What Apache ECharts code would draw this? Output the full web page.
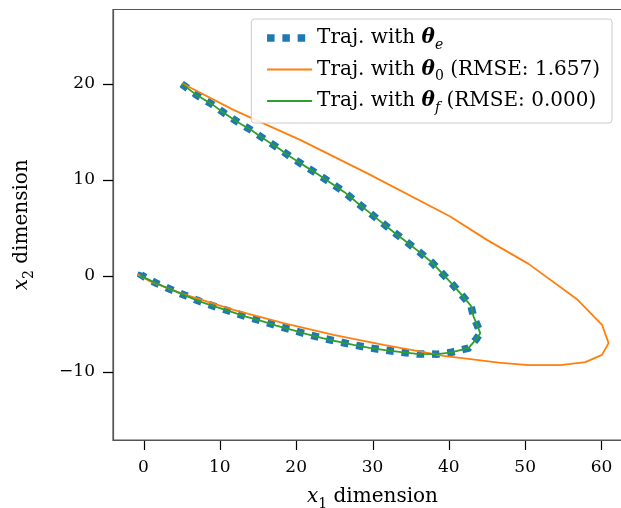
<!DOCTYPE html>
<html><head><meta charset="utf-8">
<script src="https://cdn.jsdelivr.net/npm/echarts@6/dist/echarts.min.js"></script>
<style>html,body{margin:0;padding:0;background:#fff}#c{width:621px;height:508px}</style>
</head><body><div id="c"></div>
<script>
// ---- data ----
var xTicks = [0, 10, 20, 30, 40, 50, 60];
var yTicks = [-10, 0, 10, 20];
var xMin = -4, xMax = 64, yMin = -17.1, yMax = 27.75;
var seriesSubs = ['e', '0', 'f'];
var seriesRmse = [null, '1.657', '0.000'];
// Trajectory with theta_e (expert) -- blue dotted
var trajE = [[5.0,20.0],[7.06,18.78],[8.95,17.89],[10.6,16.95],[12.36,16.01],[14.19,15.14],[15.85,14.24],[17.68,13.3],[19.34,12.36],[21.09,11.46],[22.84,10.59],[24.59,9.66],[26.33,8.72],[27.96,7.64],[29.61,6.59],[31.23,5.55],[32.84,4.51],[34.51,3.51],[36.16,2.47],[37.79,1.39],[39.1,0.28],[40.54,-0.94],[41.93,-2.22],[42.9,-3.13],[43.24,-4.24],[43.76,-5.21],[44.11,-5.97],[43.59,-6.59],[42.58,-7.53],[40.18,-7.99],[38.44,-8.16],[35.82,-8.13],[33.76,-7.95],[31.66,-7.74],[29.61,-7.5],[27.51,-7.19],[25.47,-6.84],[23.45,-6.49],[21.4,-6.07],[19.44,-5.63],[17.38,-5.18],[15.41,-4.69],[13.41,-4.24],[11.44,-3.72],[9.38,-3.2],[7.42,-2.68],[5.58,-2.08],[3.49,-1.39],[1.65,-0.76],[0.4,-0.25],[-0.3,0.1],[-0.2,0.4],[0.25,0.3],[0.1,0.0]];
// Trajectory with theta_0 -- orange
var traj0 = [[5.02,20.07],[11.78,17.29],[20.52,14.17],[29.27,10.7],[40.18,6.18],[44.99,3.75],[50.45,1.25],[56.79,-2.43],[60.07,-5.1],[60.93,-7.01],[60.07,-8.23],[57.88,-8.99],[54.6,-9.3],[50.45,-9.3],[46.51,-9.03],[42.58,-8.65],[39.31,-8.33],[35.82,-7.81],[31.44,-7.19],[24.89,-6.15],[18.34,-4.93],[11.78,-3.54],[5.23,-1.91],[0.87,-0.59],[-0.8,0.18]];
// Trajectory with theta_f -- green
var trajF = [[5.02,20.0],[7.06,18.78],[8.95,17.89],[10.6,16.95],[12.36,16.01],[14.19,15.14],[15.85,14.24],[17.68,13.3],[19.34,12.36],[21.09,11.46],[22.84,10.59],[24.59,9.66],[26.33,8.72],[27.96,7.64],[29.61,6.59],[31.23,5.55],[32.84,4.51],[34.51,3.51],[36.16,2.47],[37.79,1.39],[39.1,0.28],[40.54,-0.94],[41.93,-2.22],[42.9,-3.13],[43.24,-4.24],[43.76,-5.21],[44.11,-5.97],[43.59,-6.59],[42.58,-7.53],[40.18,-7.99],[38.44,-8.16],[35.82,-8.13],[33.76,-7.95],[31.66,-7.74],[29.61,-7.5],[27.51,-7.19],[25.47,-6.84],[23.45,-6.49],[21.4,-6.07],[19.44,-5.63],[17.38,-5.18],[15.41,-4.69],[13.41,-4.24],[11.44,-3.72],[9.38,-3.2],[7.42,-2.68],[5.58,-2.08],[3.49,-1.39],[1.65,-0.76],[-0.45,0.03]];

var FONT = 'DejaVu Serif';
var FS = 17;      // tick labels
var LFS = 20;     // legend / axis names
var SFS = 14;     // subscripts
var LH = 22;
function fmtNum(v){ return String(v).replace('-', '\u2212'); }
var chart = echarts.init(document.getElementById('c'), null, {renderer:'canvas'});
var names = ['e','0','f'];
var rich = {
  r:{fontFamily:FONT,fontSize:LFS,color:'#000',lineHeight:LH},
  t:{fontFamily:FONT,fontSize:LFS,color:'#000',fontWeight:'bold',fontStyle:'italic',lineHeight:LH},
  s:{fontFamily:FONT,fontSize:SFS,color:'#000',fontStyle:'italic',verticalAlign:'bottom',lineHeight:LH,padding:[0,0,-3,0]},
  s0:{fontFamily:FONT,fontSize:SFS,color:'#000',verticalAlign:'bottom',lineHeight:LH,padding:[0,0,-3,0]}
};
var nameRich = {
  i:{fontFamily:FONT,fontSize:LFS,color:'#000',fontStyle:'italic',lineHeight:LH},
  s:{fontFamily:FONT,fontSize:SFS,color:'#000',verticalAlign:'bottom',lineHeight:LH,padding:[0,0,-3,0]},
  r:{fontFamily:FONT,fontSize:LFS,color:'#000',lineHeight:LH}
};
chart.setOption({
  animation:false,
  backgroundColor:'#fff',
  grid:{left:113,top:9.5,width:519,height:430.5,outerBoundsMode:'none',containLabel:false,
        show:true,borderColor:'#555',borderWidth:1.2,backgroundColor:'transparent'},
  legend:{
    orient:'vertical', right:9, top:19, padding:[9,12,8,12], itemGap:7.5,
    itemWidth:45, itemHeight:14, backgroundColor:'rgba(255,255,255,0.85)',
    borderColor:'#ccc', borderWidth:1, borderRadius:3,
    data:names,
    itemStyle:{opacity:0},
    lineStyle:{width:'inherit'},
    textStyle:{fontFamily:FONT,fontSize:LFS,color:'#000',rich:rich},
    formatter:function(n){
      var i = seriesSubs.indexOf(n);
      var subStyle = (n === '0') ? 's0' : 's';
      var s = '{r|Traj. with }{t|\u03b8}{'+subStyle+'|'+seriesSubs[i]+'}';
      if (seriesRmse[i]) s += '{r| (RMSE: '+seriesRmse[i]+')}';
      return s;
    }
  },
  xAxis:{
    type:'value', min:xMin, max:xMax,
    axisLine:{show:true,onZero:false,lineStyle:{color:'#555',width:1.2}},
    splitLine:{show:false},
    axisTick:{show:false},
    axisLabel:{fontFamily:FONT,fontSize:FS,color:'#000',margin:19,customValues:xTicks,formatter:fmtNum},
    name:'{i|x}{s|1}{r| dimension}', nameLocation:'middle', nameGap:46,
    nameTextStyle:{fontFamily:FONT,fontSize:LFS,color:'#000',rich:nameRich}
  },
  yAxis:{
    type:'value', min:yMin, max:yMax,
    axisLine:{show:true,onZero:false,lineStyle:{color:'#555',width:1.2}},
    splitLine:{show:false},
    axisTick:{show:true,inside:false,length:10,lineStyle:{color:'#000',width:1.3},customValues:yTicks},
    axisLabel:{fontFamily:FONT,fontSize:FS,color:'#000',margin:18,customValues:yTicks,formatter:fmtNum},
    name:'{i|x}{s|2}{r| dimension}', nameLocation:'middle', nameGap:80,
    nameTextStyle:{fontFamily:FONT,fontSize:LFS,color:'#000',rich:nameRich}
  },
  series:[
    {name:'e',type:'line',data:trajE,symbol:'none',smooth:false,
     lineStyle:{color:'#1f77b4',width:7.5,type:[7.5,7.8],cap:'butt',join:'miter'},itemStyle:{color:'#1f77b4'}},
    {name:'0',type:'line',data:traj0,symbol:'none',smooth:false,
     lineStyle:{color:'#ff7f0e',width:1.8},itemStyle:{color:'#ff7f0e'}},
    {name:'f',type:'line',data:trajF,symbol:'none',smooth:false,
     lineStyle:{color:'#2ca02c',width:1.8},itemStyle:{color:'#2ca02c'}},
    {name:'xticks',type:'custom',clip:false,silent:true,z:10,
     data:xTicks.map(function(v){return [v, yMin];}),
     encode:{x:0,y:1},
     renderItem:function(params, api){
       var p = api.coord([api.value(0), api.value(1)]);
       var x = Math.round(p[0]) + 0.5;
       return {type:'line',shape:{x1:x,y1:p[1]+1,x2:x,y2:p[1]+10},
               style:{stroke:'#000',lineWidth:1.2}};
     }}
  ]
});
</script></body></html>
